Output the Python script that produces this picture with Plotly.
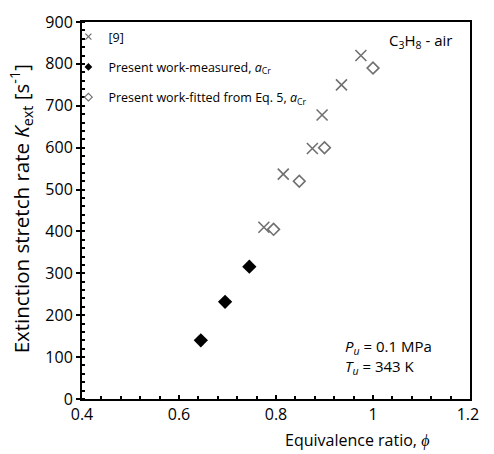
import plotly.graph_objects as go

ref_phi = [0.775, 0.815, 0.875, 0.895, 0.935, 0.975]
ref_k = [410, 537, 598, 678, 750, 820]
meas_phi = [0.645, 0.695, 0.745]
meas_k = [140, 232, 316]
fit_phi = [0.795, 0.848, 0.900, 1.000]
fit_k = [405, 520, 600, 790]

x_tickvals = [0.4, 0.6, 0.8, 1.0, 1.2]
x_ticktext = ["0.4", "0.6", "0.8", "1", "1.2\u00a0"]

names = ["[9]",
         "Present work-measured, <i>a</i><sub>Cr</sub>",
         "Present work-fitted from Eq. 5, <i>a</i><sub>Cr</sub>"]

FONT = "Open Sans"
GRAY = "#707070"
fig = go.Figure()
fig.add_trace(go.Scatter(x=ref_phi, y=ref_k, mode="markers", showlegend=False,
                         marker=dict(symbol="x-thin", size=11, color=GRAY,
                                     line=dict(width=1.6, color=GRAY))))
fig.add_trace(go.Scatter(x=meas_phi, y=meas_k, mode="markers", showlegend=False,
                         marker=dict(symbol="diamond", size=11, color="black")))
fig.add_trace(go.Scatter(x=fit_phi, y=fit_k, mode="markers", showlegend=False,
                         marker=dict(symbol="diamond-open", size=9, color=GRAY,
                                     line=dict(width=1.6, color=GRAY))))
# legend entries (small markers as in the reference)
fig.add_trace(go.Scatter(x=[None], y=[None], mode="markers", name=names[0], legendgroup="a",
                         marker=dict(symbol="x-thin", size=6, color=GRAY,
                                     line=dict(width=1.2, color=GRAY))))
fig.add_trace(go.Scatter(x=[None], y=[None], mode="markers", name=names[1], legendgroup="b",
                         marker=dict(symbol="diamond", size=6, color="black")))
fig.add_trace(go.Scatter(x=[None], y=[None], mode="markers", name=names[2], legendgroup="c",
                         marker=dict(symbol="diamond-open", size=6, color=GRAY,
                                     line=dict(width=1.2, color=GRAY))))

fig.update_layout(
    width=494, height=454,
    margin=dict(l=82, r=11, t=13, b=55),
    plot_bgcolor="white", paper_bgcolor="white",
    font=dict(family=FONT, size=16, color="black"),
    showlegend=True,
    legend=dict(x=-0.035, y=1.0, xanchor="left", yanchor="top",
                bgcolor="rgba(0,0,0,0)", font=dict(size=12.5, family=FONT),
                tracegroupgap=11, itemwidth=30),
    xaxis=dict(range=[0.4, 1.2], tickvals=x_tickvals, ticktext=x_ticktext,
               showline=True, linecolor="black", linewidth=2, mirror=True,
               ticks="inside", ticklen=4, tickwidth=2, tickcolor="black",
               minor=dict(dtick=0.04, ticks="inside", ticklen=3, tickwidth=1.5, tickcolor="black"),
               showgrid=False, zeroline=False, tickfont=dict(size=16),
               ticklabeloverflow="allow"),
    yaxis=dict(range=[0, 900], dtick=100,
               showline=True, linecolor="black", linewidth=2, mirror=True,
               ticks="outside", ticklen=4, tickwidth=2, tickcolor="black",
               minor=dict(dtick=20, ticks="inside", ticklen=3, tickwidth=1.5, tickcolor="black"),
               showgrid=False, zeroline=False, tickfont=dict(size=16),
               ticklabeloverflow="allow"),
)

# axis titles
fig.add_annotation(xref="paper", yref="paper", x=0.71, y=-0.109, xanchor="center", yanchor="middle",
                   text="Equivalence ratio, <i>ϕ</i>", showarrow=False, font=dict(size=16))
fig.add_annotation(xref="paper", yref="paper", x=-0.158, y=0.505, xanchor="center", yanchor="middle",
                   textangle=-90,
                   text="Extinction stretch rate <i>K</i><sub>ext</sub> [s<sup>-1</sup>]",
                   showarrow=False, font=dict(size=20.5))

fig.add_annotation(xref="paper", yref="paper", x=0.96, y=0.95, xanchor="right", yanchor="middle",
                   text="C<sub>3</sub>H<sub>8</sub> - air", showarrow=False,
                   font=dict(size=15, family=FONT))
fig.add_annotation(xref="paper", yref="paper", x=0.672, y=0.138, xanchor="left", yanchor="middle",
                   text="<i>P</i><sub><i>u</i></sub> = 0.1 MPa",
                   align="left", showarrow=False, font=dict(size=15, family=FONT))
fig.add_annotation(xref="paper", yref="paper", x=0.672, y=0.085, xanchor="left", yanchor="middle",
                   text="<i>T</i><sub><i>u</i></sub> = 343 K",
                   align="left", showarrow=False, font=dict(size=15, family=FONT))

fig.write_html("out.html",
               config={"displayModeBar": False},
               post_script="document.body.style.margin='0';"
                           "document.documentElement.style.overflow='hidden';")
